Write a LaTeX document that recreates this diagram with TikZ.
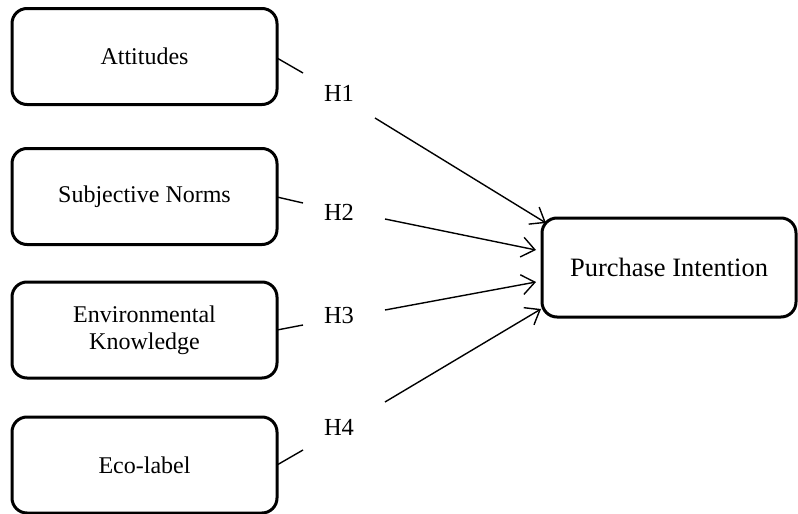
\documentclass[tikz,border=0pt]{standalone}
\usepackage{fontspec}
\setmainfont{Liberation Serif}
\usetikzlibrary{arrows.meta}
\begin{document}
\begin{tikzpicture}[x=1pt,y=-1pt,
  factor/.style={draw, line width=3pt, rounded corners=15pt, minimum width=265pt, minimum height=96pt, align=center, font=\fontsize{24}{27}\selectfont, inner sep=0pt},
  hlabel/.style={font=\fontsize{24.5}{27}\selectfont, inner sep=0pt},
  stub/.style={line width=1.4pt},
  link/.style={line width=1.4pt, -{Straight Barb[length=13pt,width=20pt,line width=1.4pt]}}]
\useasboundingbox (0,0) rectangle (798,514);
\node[factor] (att) at (144.5,56.5) {Attitudes};
\node[factor] (sn) at (144.5,196.5) {Subjective Norms};
\node[factor] (ek) at (144.5,330) {Environmental\\Knowledge};
\node[factor] (eco) at (144.5,465) {Eco-label};
\node[factor, minimum width=254pt, minimum height=99pt, font=\fontsize{26.5}{30}\selectfont] (pi) at (669,267.5) {Purchase Intention};
\node[hlabel] (h1) at (339,93) {H1};
\node[hlabel] (h2) at (339,212) {H2};
\node[hlabel] (h3) at (339,316) {H3};
\node[hlabel] (h4) at (339,427) {H4};
\coordinate (s1) at (303,73);
\coordinate (s2) at (303,203);
\coordinate (s3) at (303,325);
\coordinate (s4) at (303,450);
\coordinate (a1) at (375,118);
\coordinate (a2) at (385,219);
\coordinate (a3) at (385,310);
\coordinate (a4) at (385,402);
\coordinate (t1) at (546,223);
\coordinate (t2) at (536,250);
\coordinate (t3) at (536,282);
\coordinate (t4) at (541,309);
\draw[stub] (277,58) -- (s1);
\draw[stub] (277,197) -- (s2);
\draw[stub] (277,330) -- (s3);
\draw[stub] (277,465) -- (s4);
\draw[link] (a1) -- (t1);
\draw[link] (a2) -- (t2);
\draw[link] (a3) -- (t3);
\draw[link] (a4) -- (t4);
\end{tikzpicture}
\end{document}
